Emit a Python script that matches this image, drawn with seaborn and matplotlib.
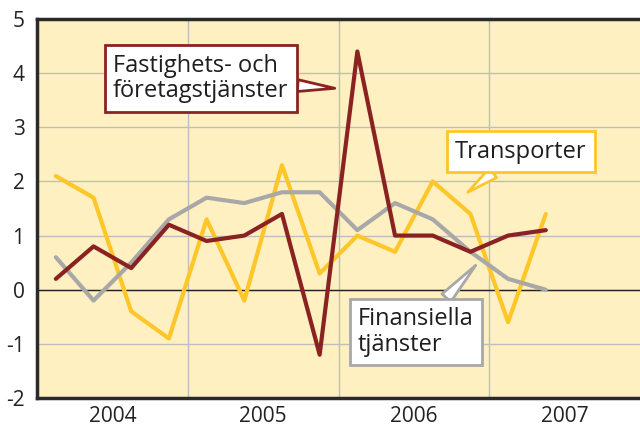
import matplotlib
matplotlib.use("Agg")
import matplotlib.pyplot as plt
import seaborn as sns
import pandas as pd
import numpy as np

quarters = ["2004K1", "2004K2", "2004K3", "2004K4",
            "2005K1", "2005K2", "2005K3", "2005K4",
            "2006K1", "2006K2", "2006K3", "2006K4",
            "2007K1", "2007K2"]
fastighets = [0.2, 0.8, 0.4, 1.2, 0.9, 1.0, 1.4, -1.2, 4.4, 1.0, 1.0, 0.7, 1.0, 1.1]
transporter = [2.1, 1.7, -0.4, -0.9, 1.3, -0.2, 2.3, 0.3, 1.0, 0.7, 2.0, 1.4, -0.6, 1.4]
finansiella = [0.6, -0.2, 0.5, 1.3, 1.7, 1.6, 1.8, 1.8, 1.1, 1.6, 1.3, 0.7, 0.2, 0.0]
years = ["2004", "2005", "2006", "2007"]
yticks = [-2, -1, 0, 1, 2, 3, 4, 5]

names = ["Transporter", "Finansiella tjänster", "Fastighets- och företagstjänster"]
colors = {"Transporter": "#FFC629",
          "Finansiella tjänster": "#A8A8A8",
          "Fastighets- och företagstjänster": "#8A2222"}

rows = []
for name, vals in zip(names, [transporter, finansiella, fastighets]):
    for i, v in enumerate(vals):
        rows.append({"idx": i, "value": v, "serie": name})
df = pd.DataFrame(rows)

sns.set_theme(style="white")
plt.rcParams["font.family"] = ["Open Sans", "DejaVu Sans"]

fig = plt.figure(figsize=(6.4, 4.3), dpi=100)
ax = fig.add_axes([37/640, 1-398/430, 603/640, 379/430])
ax.set_facecolor("#FEF0C0")

sns.lineplot(data=df, x="idx", y="value", hue="serie", hue_order=names,
             palette=colors, linewidth=3, ax=ax, legend=False, zorder=3)

ax.set_xlim(-0.5, 15.5)
ax.set_ylim(-2, 5)
ax.set_yticks(yticks)
ax.set_yticklabels([str(t) for t in yticks], fontsize=15, color="#222222")
ax.set_xticks([1.5, 5.5, 9.5, 13.5])
ax.set_xticklabels(years, fontsize=15, color="#222222")
ax.tick_params(axis="x", length=0, pad=6)
ax.tick_params(axis="y", length=0, pad=9)
ax.set_xlabel("")
ax.set_ylabel("")

for t in yticks:
    ax.axhline(t, color="#BDBDBD", lw=1, zorder=1)
for b in [3.5, 7.5, 11.5]:
    ax.axvline(b, color="#BDBDBD", lw=1, zorder=1)
ax.axhline(0, color="#222222", lw=1, zorder=2)

for s in ["left", "bottom", "top"]:
    ax.spines[s].set_color("#2A2A2A")
    ax.spines[s].set_linewidth(2.5)
ax.spines["right"].set_visible(False)

def callout(text, xy, xytext, ec):
    ax.annotate(text, xy=xy, xycoords="data", xytext=xytext, textcoords="axes fraction",
                ha="left", va="center", fontsize=17, color="#1E1E1E", linespacing=1.1,
                bbox=dict(boxstyle="square,pad=0.35", fc="white", ec=ec, lw=2),
                arrowprops=dict(arrowstyle="wedge,tail_width=0.5,shrink_factor=0.5",
                                fc="white", ec=ec, lw=2, shrinkA=0, shrinkB=0),
                zorder=5)

callout("Fastighets- och\nföretagstjänster", (7.4, 3.72), (0.126, 0.843), "#8A2222")
callout("Transporter", (10.93, 1.80), (0.693, 0.650), "#FFC629")
callout("Finansiella\ntjänster", (11.14, 0.45), (0.532, 0.174), "#A8A8A8")

fig.savefig("out.png", dpi=100)
